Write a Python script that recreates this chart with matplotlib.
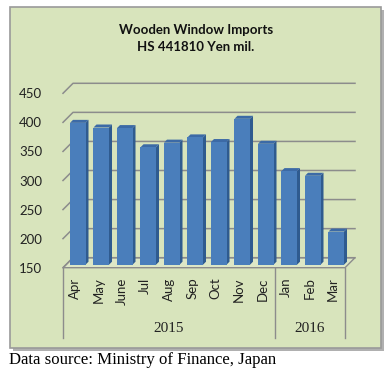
import matplotlib
matplotlib.use("Agg")
from matplotlib import pyplot as plt
from matplotlib.patches import Polygon, Rectangle

# Data
months = ["Apr", "May", "June", "Jul", "Aug", "Sep", "Oct", "Nov", "Dec", "Jan", "Feb", "Mar"]
values = [394, 386, 385, 352, 360, 369, 361, 401, 358, 311, 303, 207]
years = ["2015", "2016"]
year_spans = [(-0.5, 8.5), (8.5, 11.5)]
yticks = [150, 200, 250, 300, 350, 400, 450]

W, H = 390, 375
fig = plt.figure(figsize=(W / 100, H / 100), dpi=100)
fig.patch.set_facecolor("white")

# chart area (green box with shadow)
fig.patches.append(Rectangle((13 / W, 1 - 351 / H), 371 / W, 341 / H, transform=fig.transFigure,
                             facecolor="#b0b0b0", edgecolor="none", zorder=-3))
fig.patches.append(Rectangle((10 / W, 1 - 348 / H), 371 / W, 341 / H, transform=fig.transFigure,
                             facecolor="#d8e4bc", edgecolor="#9a9a9a", linewidth=1.2, zorder=-2))

ax_l, ax_r, ax_t, ax_b = 63, 345, 93.3, 267.7
ax = fig.add_axes([ax_l / W, 1 - ax_b / H, (ax_r - ax_l) / W, (ax_b - ax_t) / H])
ax.set_zorder(1)
ax.set_facecolor("none")
ax.set_xlim(-0.5, 11.5)
ax.set_ylim(150, 450)
for s in ax.spines.values():
    s.set_visible(False)

# depth offsets (pixels -> data units)
px_x = 12 / (ax_r - ax_l)
px_y = 300 / (ax_b - ax_t)
ox, oy = 10 * px_x, 10 * px_y

grid_c = "#8c8c8c"
# floor
ax.add_patch(Polygon([(-0.5, 150), (11.5, 150), (11.5 + ox, 150 + oy), (-0.5 + ox, 150 + oy)],
                     closed=True, facecolor="#dde7c6", edgecolor=grid_c, linewidth=1, clip_on=False, zorder=1))
# gridlines on back and side wall
for v in yticks:
    ax.plot([-0.5, -0.5 + ox, 11.5 + ox], [v, v + oy, v + oy], color=grid_c, linewidth=1.1,
            clip_on=False, zorder=1)

# 3D-looking bars
w = 0.66
f1, f2 = 0.3, 0.6
for i, v in enumerate(values):
    xl, xr = i - w / 2, i + w / 2
    a1, b1 = f1 * ox, f1 * oy
    a2, b2 = f2 * ox, f2 * oy
    ax.add_patch(Polygon([(xr + a1, 150 + b1), (xr + a1, v + b1), (xr + a2, v + b2), (xr + a2, 150 + b2)],
                         closed=True, facecolor="#2f5b8f", edgecolor="none", clip_on=False, zorder=3))
    ax.add_patch(Polygon([(xl + a1, v + b1), (xr + a1, v + b1), (xr + a2, v + b2), (xl + a2, v + b2)],
                         closed=True, facecolor="#3c6aa6", edgecolor="none", clip_on=False, zorder=3))
    ax.bar(i + a1, v - 150, bottom=150 + b1, width=w, color="#4a7ebb", edgecolor="none", zorder=4,
           clip_on=False)

# axes labels
ax.set_yticks(yticks)
ax.set_yticklabels([str(t) for t in yticks], fontsize=9.5, family="Lato", color="#222222")
ax.tick_params(axis="y", length=0, pad=15)
ax.set_xticks(range(len(months)))
ax.set_xticklabels(months, rotation=90, fontsize=9.5, family="Lato", color="#222222")
ax.tick_params(axis="x", length=0, pad=7)

# category group table below the axis
xt = ax.get_xaxis_transform()
y_low = (ax_b - 338) / (ax_b - ax_t)
for xs in [-0.5, 8.5, 11.5]:
    ax.plot([xs, xs], [0, y_low], color=grid_c, linewidth=1, transform=xt, clip_on=False)
y_year = (ax_b - 329) / (ax_b - ax_t)
for yr, (a, b) in zip(years, year_spans):
    ax.text((a + b) / 2, y_year, yr, transform=xt, ha="center", va="center",
            fontsize=11, family="Liberation Serif", color="#222222")

# title
fig.text(196 / W, 1 - 30 / H, "Wooden Window Imports", ha="center", va="center",
         fontsize=9.5, fontweight="bold", family="Lato", color="#111111")
fig.text(196 / W, 1 - 47 / H, "HS 441810 Yen mil.", ha="center", va="center",
         fontsize=9.5, fontweight="bold", family="Lato", color="#111111")

# source note
fig.text(9 / W, 1 - 360 / H, "Data source: Ministry of Finance, Japan", ha="left", va="center",
         fontsize=12.1, family="Liberation Serif", color="black")

fig.savefig("out.png", dpi=100)
